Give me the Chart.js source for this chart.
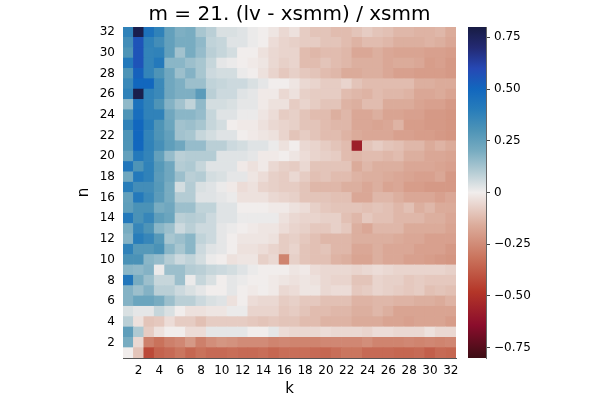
<!DOCTYPE html>
<html>
<head>
<meta charset="utf-8">
<script src="https://cdn.jsdelivr.net/npm/chart.js@4.4.1/dist/chart.umd.min.js"></script>
<style>
  html, body { margin: 0; padding: 0; background: #ffffff; }
  #wrap { position: relative; width: 600px; height: 400px; }
  #main { position: absolute; left: 0; top: 0; }
  #cbar { position: absolute; left: 456px; top: 0; }
</style>
</head>
<body>
<div id="wrap">
  <canvas id="main" width="600" height="400"></canvas>
  <canvas id="cbar" width="144" height="400"></canvas>
</div>
<script>
// ---------------- data ----------------
const chartTitle = 'm = 21. (lv - xsmm) / xsmm';
const kValues = Array.from({length: 32}, (_, i) => i + 1);   // k = 1..32 (x categories)
const nValues = Array.from({length: 32}, (_, i) => i + 1);   // n = 1..32 (rows)
const kTickLabels = ['2','4','6','8','10','12','14','16','18','20','22','24','26','28','30','32'];
const nTicks = [2,4,6,8,10,12,14,16,18,20,22,24,26,28,30,32];
const cbTicks = [-0.75, -0.5, -0.25, 0, 0.25, 0.5, 0.75];
const cbRange = [-0.8, 0.8];

// values[n-1][k-1]
const values = [
/* n=1 */ [0.0,-0.1,-0.43,-0.36,-0.34,-0.31,-0.35,-0.32,-0.34,-0.34,-0.33,-0.34,-0.34,-0.33,-0.35,-0.33,-0.33,-0.33,-0.34,-0.35,-0.33,-0.31,-0.31,-0.34,-0.34,-0.34,-0.35,-0.35,-0.34,-0.37,-0.34,-0.35],
/* n=2 */ [0.2,-0.05,-0.28,-0.32,-0.28,-0.26,-0.21,-0.28,-0.24,-0.22,-0.23,-0.25,-0.25,-0.25,-0.27,-0.26,-0.27,-0.27,-0.27,-0.26,-0.26,-0.26,-0.26,-0.24,-0.27,-0.27,-0.27,-0.26,-0.27,-0.26,-0.27,-0.26],
/* n=3 */ [0.26,0.11,-0.08,-0.03,0.0,0.0,-0.04,-0.04,0.02,0.02,0.02,0.02,0.0,0.0,0.02,-0.04,-0.05,-0.05,-0.05,-0.04,-0.05,-0.05,-0.05,-0.06,-0.04,-0.04,-0.05,-0.05,-0.05,-0.03,-0.05,-0.05],
/* n=4 */ [0.09,-0.03,-0.1,-0.09,-0.04,-0.08,-0.08,-0.11,-0.08,-0.08,-0.08,-0.08,-0.09,-0.1,-0.09,-0.1,-0.1,-0.12,-0.12,-0.14,-0.14,-0.14,-0.16,-0.16,-0.16,-0.18,-0.18,-0.19,-0.18,-0.18,-0.18,-0.2],
/* n=5 */ [0.04,0.02,0.02,0.07,0.04,0.0,-0.03,-0.03,-0.02,-0.02,0.01,0.01,-0.06,-0.06,-0.06,-0.09,-0.08,-0.1,-0.12,-0.12,-0.13,-0.13,-0.15,-0.15,-0.13,-0.15,-0.18,-0.18,-0.18,-0.18,-0.18,-0.18],
/* n=6 */ [0.18,0.23,0.23,0.2,0.14,0.09,0.09,0.06,0.04,0.03,-0.03,0.0,-0.04,-0.05,-0.05,-0.08,-0.07,-0.09,-0.09,-0.11,-0.11,-0.11,-0.14,-0.14,-0.13,-0.13,-0.14,-0.14,-0.15,-0.15,-0.16,-0.14],
/* n=7 */ [0.18,0.14,0.18,0.09,0.09,0.06,0.04,0.02,0.0,0.0,0.02,0.0,-0.01,0.0,-0.01,-0.05,-0.04,-0.02,-0.02,-0.05,-0.04,-0.04,-0.09,-0.08,-0.06,-0.07,-0.08,-0.09,-0.08,-0.11,-0.1,-0.11],
/* n=8 */ [0.43,0.2,0.14,0.07,0.07,0.14,0.01,0.07,0.04,0.0,0.02,0.01,0.0,0.0,-0.01,-0.02,-0.03,-0.02,-0.03,-0.05,-0.06,-0.06,-0.1,-0.1,-0.06,-0.07,-0.07,-0.09,-0.08,-0.09,-0.09,-0.09],
/* n=9 */ [0.17,0.16,0.18,0.01,0.14,0.14,0.1,0.09,0.07,0.06,0.05,0.03,0.01,0.0,0.0,0.0,-0.02,-0.01,-0.04,-0.05,-0.05,-0.05,-0.06,-0.05,-0.04,-0.05,-0.06,-0.06,-0.06,-0.06,-0.06,-0.07],
/* n=10 */ [0.31,0.31,0.17,0.15,0.1,0.06,0.08,0.05,0.01,0.0,-0.03,-0.02,-0.02,-0.07,-0.05,-0.27,-0.07,-0.1,-0.11,-0.11,-0.14,-0.15,-0.18,-0.18,-0.15,-0.17,-0.17,-0.19,-0.19,-0.2,-0.21,-0.22],
/* n=11 */ [0.38,0.28,0.28,0.31,0.17,0.12,0.17,0.06,0.03,0.02,0.0,-0.03,-0.03,-0.04,-0.06,-0.08,-0.06,-0.1,-0.11,-0.1,-0.13,-0.13,-0.17,-0.17,-0.15,-0.17,-0.17,-0.17,-0.19,-0.19,-0.19,-0.21],
/* n=12 */ [0.18,0.4,0.36,0.28,0.12,0.14,0.17,0.08,0.06,0.02,0.0,-0.02,-0.02,-0.02,-0.03,-0.08,-0.07,-0.09,-0.11,-0.13,-0.13,-0.13,-0.15,-0.15,-0.15,-0.15,-0.16,-0.17,-0.17,-0.19,-0.19,-0.19],
/* n=13 */ [0.2,0.36,0.3,0.17,0.14,0.06,0.09,0.06,0.06,0.02,0.01,0.0,-0.01,-0.02,-0.02,-0.04,-0.06,-0.07,-0.09,-0.09,-0.07,-0.09,-0.15,-0.17,-0.13,-0.13,-0.13,-0.16,-0.16,-0.16,-0.16,-0.18],
/* n=14 */ [0.42,0.31,0.36,0.26,0.23,0.09,0.1,0.09,0.06,0.03,0.03,0.01,0.01,0.01,0.01,-0.03,-0.05,-0.06,-0.06,-0.07,-0.07,-0.11,-0.13,-0.09,-0.11,-0.11,-0.13,-0.13,-0.13,-0.15,-0.15,-0.17],
/* n=15 */ [0.26,0.31,0.31,0.2,0.22,0.14,0.14,0.08,0.08,0.03,0.03,0.0,0.0,0.0,-0.01,-0.01,-0.03,-0.04,-0.07,-0.09,-0.1,-0.1,-0.1,-0.11,-0.1,-0.11,-0.13,-0.11,-0.15,-0.13,-0.16,-0.16],
/* n=16 */ [0.25,0.42,0.35,0.27,0.2,0.1,0.1,0.03,0.03,0.02,0.01,-0.03,-0.03,-0.03,-0.05,-0.06,-0.07,-0.1,-0.1,-0.1,-0.11,-0.11,-0.17,-0.17,-0.13,-0.13,-0.15,-0.17,-0.17,-0.17,-0.19,-0.17],
/* n=17 */ [0.4,0.33,0.33,0.28,0.2,0.05,0.1,0.04,0.03,0.01,-0.01,-0.04,-0.03,-0.06,-0.07,-0.08,-0.08,-0.1,-0.13,-0.13,-0.13,-0.15,-0.15,-0.17,-0.15,-0.18,-0.17,-0.2,-0.2,-0.21,-0.21,-0.21],
/* n=18 */ [0.22,0.42,0.38,0.27,0.22,0.14,0.09,0.1,0.05,0.04,0.02,0.02,-0.02,-0.04,-0.07,-0.08,-0.05,-0.08,-0.11,-0.1,-0.12,-0.12,-0.14,-0.15,-0.15,-0.16,-0.17,-0.18,-0.19,-0.19,-0.17,-0.21],
/* n=19 */ [0.43,0.3,0.38,0.28,0.22,0.1,0.11,0.07,0.03,0.03,0.03,-0.01,-0.03,-0.01,-0.05,-0.07,-0.08,-0.05,-0.1,-0.1,-0.1,-0.1,-0.16,-0.13,-0.15,-0.15,-0.15,-0.17,-0.17,-0.17,-0.18,-0.19],
/* n=20 */ [0.25,0.42,0.37,0.25,0.15,0.09,0.1,0.1,0.1,0.03,0.03,0.03,0.02,-0.01,-0.01,0.0,-0.02,-0.04,-0.06,-0.07,-0.08,-0.12,-0.13,-0.12,-0.12,-0.13,-0.12,-0.15,-0.15,-0.17,-0.17,-0.18],
/* n=21 */ [0.3,0.5,0.38,0.32,0.26,0.22,0.15,0.15,0.09,0.09,0.06,0.05,0.03,0.03,0.01,-0.03,0.0,-0.05,-0.06,-0.08,-0.1,-0.12,-0.57,-0.1,-0.08,-0.1,-0.11,-0.13,-0.13,-0.16,-0.14,-0.16],
/* n=22 */ [0.3,0.5,0.37,0.3,0.25,0.13,0.12,0.07,0.05,0.03,0.03,0.0,-0.01,-0.02,-0.03,-0.06,-0.1,-0.08,-0.1,-0.12,-0.12,-0.14,-0.16,-0.17,-0.17,-0.17,-0.19,-0.19,-0.2,-0.2,-0.21,-0.22],
/* n=23 */ [0.38,0.5,0.4,0.3,0.23,0.13,0.14,0.12,0.07,0.05,0.0,-0.01,-0.01,-0.03,-0.05,-0.06,-0.07,-0.1,-0.1,-0.12,-0.13,-0.13,-0.17,-0.17,-0.18,-0.17,-0.14,-0.2,-0.2,-0.21,-0.21,-0.22],
/* n=24 */ [0.3,0.47,0.38,0.38,0.22,0.17,0.17,0.15,0.07,0.03,0.03,0.01,0.01,-0.02,-0.04,-0.08,-0.07,-0.1,-0.12,-0.12,-0.15,-0.13,-0.17,-0.17,-0.15,-0.18,-0.18,-0.19,-0.19,-0.21,-0.21,-0.22],
/* n=25 */ [0.16,0.45,0.38,0.3,0.18,0.13,0.08,0.16,0.05,0.05,0.04,0.02,0.02,-0.01,-0.03,-0.03,-0.08,-0.06,-0.08,-0.1,-0.1,-0.14,-0.15,-0.12,-0.12,-0.16,-0.16,-0.16,-0.18,-0.19,-0.19,-0.21],
/* n=26 */ [0.38,0.78,0.38,0.35,0.22,0.19,0.19,0.27,0.09,0.06,0.06,0.03,0.02,-0.01,-0.01,-0.05,-0.03,-0.07,-0.08,-0.08,-0.08,-0.12,-0.13,-0.14,-0.12,-0.13,-0.13,-0.14,-0.17,-0.17,-0.16,-0.18],
/* n=27 */ [0.35,0.5,0.5,0.35,0.22,0.19,0.14,0.14,0.08,0.07,0.06,0.06,0.04,0.02,0.0,0.0,-0.02,-0.05,-0.06,-0.08,-0.08,-0.06,-0.1,-0.12,-0.12,-0.12,-0.12,-0.12,-0.15,-0.15,-0.16,-0.16],
/* n=28 */ [0.3,0.52,0.37,0.3,0.22,0.14,0.18,0.12,0.06,0.05,0.05,0.01,0.0,-0.03,-0.06,-0.09,-0.07,-0.09,-0.1,-0.12,-0.13,-0.16,-0.16,-0.15,-0.15,-0.17,-0.19,-0.19,-0.2,-0.2,-0.2,-0.21],
/* n=29 */ [0.42,0.56,0.37,0.42,0.17,0.17,0.14,0.12,0.07,0.02,0.01,0.0,-0.01,-0.02,-0.05,-0.07,-0.06,-0.12,-0.12,-0.1,-0.12,-0.13,-0.15,-0.15,-0.15,-0.17,-0.16,-0.16,-0.17,-0.2,-0.19,-0.21],
/* n=30 */ [0.3,0.56,0.37,0.38,0.25,0.13,0.2,0.15,0.09,0.07,0.05,0.0,0.0,-0.03,-0.05,-0.06,-0.06,-0.12,-0.13,-0.12,-0.12,-0.13,-0.17,-0.17,-0.15,-0.17,-0.18,-0.18,-0.18,-0.19,-0.19,-0.2],
/* n=31 */ [0.33,0.56,0.38,0.33,0.25,0.2,0.2,0.16,0.08,0.07,0.03,0.03,0.01,0.0,-0.04,-0.06,-0.07,-0.08,-0.08,-0.1,-0.1,-0.12,-0.14,-0.12,-0.12,-0.13,-0.15,-0.15,-0.15,-0.14,-0.15,-0.17],
/* n=32 */ [0.38,0.78,0.45,0.38,0.25,0.19,0.2,0.12,0.09,0.04,0.04,0.03,0.01,0.0,-0.02,-0.05,-0.03,-0.08,-0.1,-0.1,-0.12,-0.12,-0.1,-0.08,-0.1,-0.11,-0.13,-0.13,-0.14,-0.14,-0.13,-0.16]
];

// ---------------- colour map (cmocean "balance", reversed) ----------------
const cmapStops = [
  [0.0, 24, 28, 67], [0.0625, 35, 42, 115], [0.125, 38, 72, 180], [0.1875, 18, 103, 190],
  [0.25, 40, 125, 186], [0.3125, 78, 148, 183], [0.375, 120, 172, 193], [0.4375, 180, 204, 212],
  [0.5, 241, 237, 236], [0.6, 219, 171, 154], [0.7, 201, 114, 91],
  [0.8, 180, 54, 40], [0.9, 139, 13, 44], [1.0, 60, 13, 20]
];
function cmapAt(b) {
  b = Math.max(0, Math.min(1, b));
  for (let i = 0; i < cmapStops.length - 1; i++) {
    const a = cmapStops[i], c = cmapStops[i + 1];
    if (b <= c[0]) {
      const t = (b - a[0]) / (c[0] - a[0]);
      return 'rgb(' + [1,2,3].map(j => Math.round(a[j] + t * (c[j] - a[j]))).join(',') + ')';
    }
  }
  const l = cmapStops[cmapStops.length - 1];
  return 'rgb(' + l[1] + ',' + l[2] + ',' + l[3] + ')';
}
function colorFor(v) {
  return cmapAt((cbRange[1] - v) / (cbRange[1] - cbRange[0]));
}

const FONT = "'DejaVu Sans', 'Liberation Sans', sans-serif";

// ---------------- main heatmap ----------------
const datasets = nValues.map((n, i) => ({
  label: 'n=' + n,
  data: values[i].map(() => [n - 0.5, n + 0.5]),
  backgroundColor: values[i].map(colorFor),
  borderWidth: 0,
  grouped: false,
  barPercentage: 1,
  categoryPercentage: 1
}));

const titlePlugin = {
  id: 'plotTitle',
  afterDraw(chart) {
    const {ctx, chartArea} = chart;
    ctx.save();
    ctx.font = '20px ' + FONT;
    ctx.fillStyle = '#000';
    ctx.textAlign = 'center';
    ctx.textBaseline = 'alphabetic';
    ctx.fillText(chartTitle, (chartArea.left + chartArea.right) / 2, 20);
    ctx.restore();
  }
};

new Chart(document.getElementById('main'), {
  type: 'bar',
  data: { labels: kValues.map(String), datasets },
  options: {
    responsive: false,
    animation: false,
    events: [],
    layout: { padding: { left: 0, right: 144, top: 27, bottom: 0 } },
    plugins: { legend: { display: false }, tooltip: { enabled: false }, title: { display: false } },
    scales: {
      x: {
        type: 'category',
        offset: true,
        z: 1,
        grid: { display: false, drawTicks: false },
        border: { display: true, color: '#555', width: 1 },
        ticks: {
          autoSkip: false, maxRotation: 0, padding: 6, color: '#000',
          font: { family: FONT, size: 12 },
          callback: (v, i) => kTickLabels.includes(String(kValues[i])) ? String(kValues[i]) : ''
        },
        title: { display: true, text: 'k', color: '#000', font: { family: FONT, size: 15 }, padding: { top: 0, bottom: 2 } },
        afterFit: s => { s.height = 42; }
      },
      y: {
        type: 'linear',
        min: 0.5, max: 32.5,
        z: 1,
        grid: { display: false, drawTicks: false },
        border: { display: true, color: '#555', width: 1 },
        afterBuildTicks: s => { s.ticks = nTicks.map(v => ({ value: v })); },
        ticks: { padding: 8, color: '#000', font: { family: FONT, size: 12 } },
        title: { display: true, text: 'n', color: '#000', font: { family: FONT, size: 15 }, padding: { top: 75, bottom: 0 } },
        afterFit: s => { s.width = 123; }
      }
    }
  },
  plugins: [titlePlugin]
});

// ---------------- colour bar ----------------
new Chart(document.getElementById('cbar'), {
  type: 'bar',
  data: {
    labels: [''],
    datasets: [{
      data: [cbRange],
      borderWidth: 0,
      barPercentage: 1,
      categoryPercentage: 1,
      backgroundColor: (ctx) => {
        const ca = ctx.chart.chartArea;
        if (!ca) return '#fff';
        const g = ctx.chart.ctx.createLinearGradient(0, ca.top, 0, ca.bottom);
        cmapStops.forEach(s => g.addColorStop(s[0], 'rgb(' + s[1] + ',' + s[2] + ',' + s[3] + ')'));
        return g;
      }
    }]
  },
  options: {
    responsive: false,
    animation: false,
    events: [],
    layout: { padding: { left: 12, right: 0, top: 27, bottom: 42 } },
    plugins: { legend: { display: false }, tooltip: { enabled: false } },
    scales: {
      x: { display: false },
      y: {
        position: 'right',
        min: cbRange[0], max: cbRange[1],
        z: 1,
        afterBuildTicks: s => { s.ticks = cbTicks.map(v => ({ value: v })); },
        grid: { display: true, drawOnChartArea: false, drawTicks: true, tickLength: 4, color: '#444' },
        border: { display: true, color: '#666', width: 1 },
        ticks: {
          padding: 4, color: '#000', font: { family: FONT, size: 12 },
          callback: v => v === 0 ? '0' : (v < 0 ? '\u2212' : '') + Math.abs(v).toFixed(2)
        },
        afterFit: s => { s.width = 114; }
      }
    }
  }
});
</script>
</body>
</html>
